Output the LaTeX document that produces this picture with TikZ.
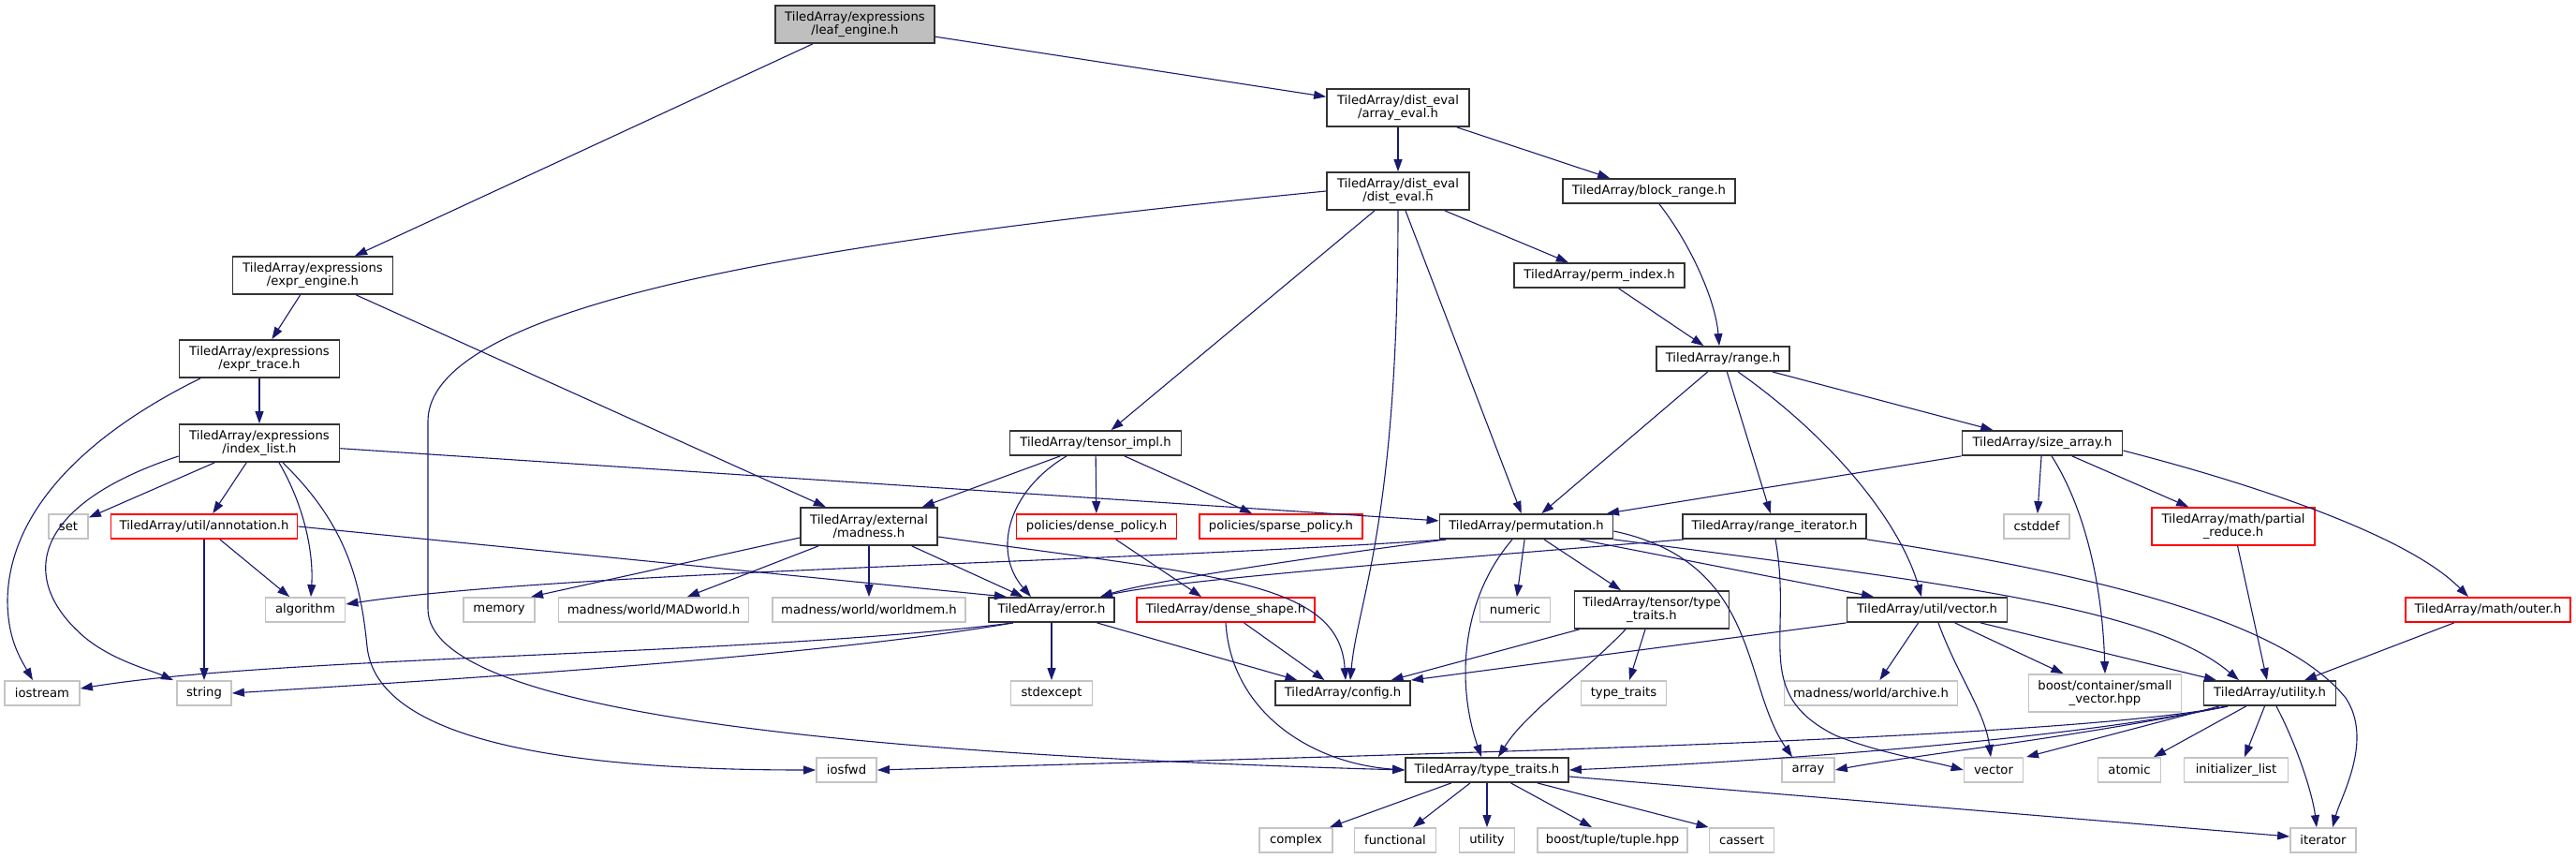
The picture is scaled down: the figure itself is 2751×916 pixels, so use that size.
\documentclass[tikz,border=0pt]{standalone}
\usepackage{fontspec}
\setmainfont{DejaVu Sans}
\usetikzlibrary{arrows.meta}
\definecolor{edgeblue}{HTML}{191970}
\definecolor{leafgray}{HTML}{BFBFBF}
\definecolor{sysgray}{HTML}{C4C4C4}
\definecolor{boxdark}{HTML}{333333}
\newcommand{\fsz}{\fontsize{13.2}{14.7}\selectfont}
\tikzset{
  nb/.style={draw=boxdark, line width=1.8pt, rectangle, inner sep=0pt, minimum height=26pt, align=center, font=\fsz, text=black},
  tb/.style={nb, minimum height=40pt},
  gb/.style={nb, draw=sysgray},
  rb/.style={nb, draw=red},
  e/.style={draw=edgeblue, line width=1.1pt, -{Triangle[length=13pt,width=9pt]}},
}
\begin{document}
\begin{tikzpicture}[x=1pt,y=-1pt]
\useasboundingbox (0,0) rectangle (2751,916);
% nodes
\node[tb, fill=leafgray, minimum width=170] (leaf) at (913,26) {TiledArray/expressions\\/leaf\_engine.h};
\node[tb, minimum width=171] (expr_engine) at (334,294) {TiledArray/expressions\\/expr\_engine.h};
\node[tb, minimum width=171] (expr_trace) at (277,383) {TiledArray/expressions\\/expr\_trace.h};
\node[tb, minimum width=171] (index_list) at (277,473) {TiledArray/expressions\\/index\_list.h};
\node[gb, minimum width=42] (set) at (73,562) {set};
\node[rb, minimum width=199] (annotation) at (218,562) {TiledArray/util/annotation.h};
\node[tb, minimum width=146] (madness) at (928,562) {TiledArray/external\\/madness.h};
\node[gb, minimum width=85] (algorithm) at (326,651) {algorithm};
\node[gb, minimum width=76] (memory) at (533,651) {memory};
\node[gb, minimum width=203] (madworld) at (698,651) {madness/world/MADworld.h};
\node[gb, minimum width=206] (worldmem) at (928,651) {madness/world/worldmem.h};
\node[gb, minimum width=80] (iostream) at (45,740) {iostream};
\node[gb, minimum width=58] (string) at (218,740) {string};
\node[gb, minimum width=64] (iosfwd) at (904,822) {iosfwd};
\node[tb, minimum width=152] (array_eval) at (1493,115) {TiledArray/dist\_eval\\/array\_eval.h};
\node[tb, minimum width=152] (dist_eval) at (1493,204) {TiledArray/dist\_eval\\/dist\_eval.h};
\node[nb, minimum width=184] (block_range) at (1761,204) {TiledArray/block\_range.h};
\node[nb, minimum width=182] (perm_index) at (1708,294) {TiledArray/perm\_index.h};
\node[nb, minimum width=142] (range) at (1840,383) {TiledArray/range.h};
\node[nb, minimum width=183] (tensor_impl) at (1170,473) {TiledArray/tensor\_impl.h};
\node[rb, minimum width=171] (dense_policy) at (1171,562) {policies/dense\_policy.h};
\node[rb, minimum width=174] (sparse_policy) at (1368,562) {policies/sparse\_policy.h};
\node[nb, minimum width=185] (permutation) at (1630,562) {TiledArray/permutation.h};
\node[nb, minimum width=196] (range_iterator) at (1895,562) {TiledArray/range\_iterator.h};
\node[nb, minimum width=171] (size_array) at (2181,473) {TiledArray/size\_array.h};
\node[gb, minimum width=70] (cstddef) at (2175,562) {cstddef};
\node[rb, minimum height=40pt, minimum width=174] (partial_reduce) at (2385,562) {TiledArray/math/partial\\\_reduce.h};
\node[nb, minimum width=134] (error) at (1123,651) {TiledArray/error.h};
\node[rb, minimum width=190] (dense_shape) at (1309,651) {TiledArray/dense\_shape.h};
\node[gb, minimum width=75] (numeric) at (1618,651) {numeric};
\node[tb, minimum width=165] (tensor_tt) at (1764,651) {TiledArray/tensor/type\\\_traits.h};
\node[nb, minimum width=171] (util_vector) at (2058,651) {TiledArray/util/vector.h};
\node[rb, minimum width=176] (outer) at (2657,651) {TiledArray/math/outer.h};
\node[gb, minimum width=87] (stdexcept) at (1123,740) {stdexcept};
\node[nb, minimum width=144] (config) at (1434,740) {TiledArray/config.h};
\node[gb, minimum width=91] (std_tt) at (1734,740) {type\_traits};
\node[gb, minimum width=185] (archive) at (1998,740) {madness/world/archive.h};
\node[gb, minimum height=40pt, minimum width=163] (small_vector) at (2248,740) {boost/container/small\\\_vector.hpp};
\node[nb, minimum width=141] (utility_h) at (2424,740) {TiledArray/utility.h};
\node[nb, minimum width=174] (type_traits_h) at (1588,822) {TiledArray/type\_traits.h};
\node[gb, minimum width=56] (array) at (1931,822) {array};
\node[gb, minimum width=63] (vector) at (2129,822) {vector};
\node[gb, minimum width=67] (atomic) at (2274,822) {atomic};
\node[gb, minimum width=111] (initlist) at (2388,822) {initializer\_list};
\node[gb, minimum width=78] (complex) at (1384,897) {complex};
\node[gb, minimum width=87] (functional) at (1490,897) {functional};
\node[gb, minimum width=59] (utility) at (1588,897) {utility};
\node[gb, minimum width=160] (boost_tuple) at (1722,897) {boost/tuple/tuple.hpp};
\node[gb, minimum width=69] (cassert) at (1860,897) {cassert};
\node[gb, minimum width=70] (iterator) at (2481,897) {iterator};

% edges
\draw[e] (leaf) -- (expr_engine);
\draw[e] (leaf) -- (array_eval);
\draw[e] (array_eval) -- (dist_eval);
\draw[e] (array_eval) -- (block_range);
\draw[e] (dist_eval) -- (tensor_impl);
\draw[e] (dist_eval) -- (perm_index);
\draw[e] (dist_eval) -- (permutation);
\draw[e] (dist_eval.south) .. controls (1493,560) and (1450,640) .. ([xshift=8]config.north);
\draw[e] (dist_eval.west) .. controls (900,255) and (457,320) .. (457,450) -- (457,650) .. controls (457,760) and (900,805) .. (type_traits_h.west);
\draw[e] ([xshift=11]block_range.south) .. controls (1805,260) and (1832,320) .. ([xshift=-4]range.north);
\draw[e] (perm_index) -- (range);
\draw[e] (expr_engine) -- (expr_trace);
\draw[e] (expr_engine) -- (madness);
\draw[e] ([xshift=-63]expr_trace.south) .. controls (100,460) and (10,540) .. (8,640) .. controls (8,680) and (20,700) .. ([xshift=-10]iostream.north);
\draw[e] (expr_trace) -- (index_list);
\draw[e] (index_list) -- (set);
\draw[e] (index_list) -- (annotation);
\draw[e] ([xshift=21]index_list.south) .. controls (325,540) and (335,590) .. ([xshift=6]algorithm.north);
\draw[e] ([yshift=-14]index_list.west) .. controls (30,540) and (20,620) .. (90,680) .. controls (120,705) and (160,715) .. ([xshift=-33]string.north);
\draw[e] ([xshift=25]index_list.south) .. controls (370,560) and (385,620) .. (392,690) .. controls (402,790) and (600,822) .. (iosfwd.west);
\draw[e] (index_list) -- (permutation);
\draw[e] (annotation) -- (string);
\draw[e] (annotation) -- (algorithm);
\draw[e] (annotation.east) -- ([xshift=-48]error.north);
\draw[e] ([yshift=-12]madness.west) -- ([xshift=34]memory.north);
\draw[e] (madness) -- (madworld);
\draw[e] (madness) -- (worldmem);
\draw[e] (madness) -- (error);
\draw[e] ([yshift=-11]madness.east) .. controls (1300,615) and (1430,620) .. ([xshift=3]config.north);
\draw[e] (tensor_impl) -- (madness);
\draw[e] (tensor_impl) -- (dense_policy);
\draw[e] (tensor_impl) -- (sparse_policy);
\draw[e] ([xshift=-31]tensor_impl.south) .. controls (1075,525) and (1060,590) .. ([xshift=-22]error.north);
\draw[e] (dense_policy) -- ([xshift=-26]dense_shape.north);
\draw[e] (dense_shape) -- (config);
\draw[e] (dense_shape.south) .. controls (1315,760) and (1400,815) .. (type_traits_h.west);
\draw[e] (range) -- (permutation);
\draw[e] (range) -- (range_iterator);
\draw[e] ([xshift=16]range.south) .. controls (1960,470) and (2030,560) .. ([xshift=-6]util_vector.north);
\draw[e] (range) -- (size_array);
\draw[e] (size_array) -- (permutation);
\draw[e] (size_array) -- (cstddef);
\draw[e] ([xshift=10]size_array.south) .. controls (2225,540) and (2245,620) .. (small_vector.north);
\draw[e] (size_array) -- (partial_reduce);
\draw[e] ([yshift=-8]size_array.east) .. controls (2400,515) and (2570,570) .. ([xshift=-21]outer.north);
\draw[e] (partial_reduce) -- (utility_h);
\draw[e] (outer) -- ([xshift=37]utility_h.north);
\draw[e] ([xshift=-86]permutation.south) .. controls (1200,600) and (600,610) .. ([yshift=6]algorithm.east);
\draw[e] ([xshift=-86]permutation.south) .. controls (1400,595) and (1230,620) .. ([xshift=52]error.north);
\draw[e] ([xshift=-97]range_iterator.south) .. controls (1500,600) and (1250,620) .. ([xshift=52]error.north);
\draw[e] (permutation) -- (numeric);
\draw[e] ([xshift=19]permutation.south) -- ([xshift=-33]tensor_tt.north);
\draw[e] ([xshift=-15]permutation.south) .. controls (1560,640) and (1555,730) .. ([xshift=-6]type_traits_h.north);
\draw[e] ([yshift=-5]permutation.east) .. controls (1880,600) and (1860,730) .. ([xshift=-17]array.north);
\draw[e] ([xshift=57]permutation.south) -- ([xshift=-57]util_vector.north);
\draw[e] (permutation.south east) .. controls (2100,625) and (2300,650) .. ([xshift=-33]utility_h.north);
\draw[e] ([xshift=1]range_iterator.south) .. controls (1915,680) and (1870,740) .. (1960,785) .. controls (2010,805) and (2060,812) .. (vector.west);
\draw[e] (range_iterator.south east) .. controls (2250,615) and (2440,665) .. (2505,745) .. controls (2535,790) and (2500,850) .. ([xshift=10]iterator.north);
\draw[e] ([xshift=-41]error.south) .. controls (800,700) and (300,700) .. ([yshift=5]iostream.east);
\draw[e] ([xshift=-41]error.south) .. controls (850,705) and (400,730) .. (string.east);
\draw[e] (error) -- (stdexcept);
\draw[e] (error) -- (config);
\draw[e] (tensor_tt) -- (config);
\draw[e] ([xshift=-7]tensor_tt.south) -- ([xshift=6]std_tt.north);
\draw[e] ([xshift=-28]tensor_tt.south) .. controls (1690,720) and (1630,760) .. ([xshift=12]type_traits_h.north);
\draw[e] (util_vector.south west) -- (config.north east);
\draw[e] (util_vector) -- (archive);
\draw[e] ([xshift=12]util_vector.south) .. controls (2090,720) and (2120,760) .. ([xshift=-3]vector.north);
\draw[e] (util_vector) -- (small_vector);
\draw[e] (util_vector) -- (utility_h);
\draw[e] ([xshift=-45]utility_h.south) .. controls (2200,790) and (1500,805) .. (iosfwd.east);
\draw[e] ([xshift=-45]utility_h.south) .. controls (2200,790) and (1900,812) .. (type_traits_h.east);
\draw[e] ([xshift=-45]utility_h.south) .. controls (2200,790) and (2050,805) .. (array.east);
\draw[e] ([xshift=-54]utility_h.south) -- ([xshift=35]vector.north);
\draw[e] (utility_h) -- ([xshift=26]atomic.north);
\draw[e] (utility_h) -- ([xshift=9]initlist.north);
\draw[e] ([xshift=7]utility_h.south) .. controls (2455,800) and (2470,850) .. ([xshift=-7]iterator.north);
\draw[e] (type_traits_h) -- ([xshift=36]complex.north);
\draw[e] (type_traits_h) -- ([xshift=19]functional.north);
\draw[e] (type_traits_h) -- (utility);
\draw[e] (type_traits_h) -- ([xshift=-22]boost_tuple.north);
\draw[e] (type_traits_h) -- (cassert.north west);
\draw[e] ([yshift=-7]type_traits_h.east) -- ([yshift=4]iterator.west);
\end{tikzpicture}
\end{document}
